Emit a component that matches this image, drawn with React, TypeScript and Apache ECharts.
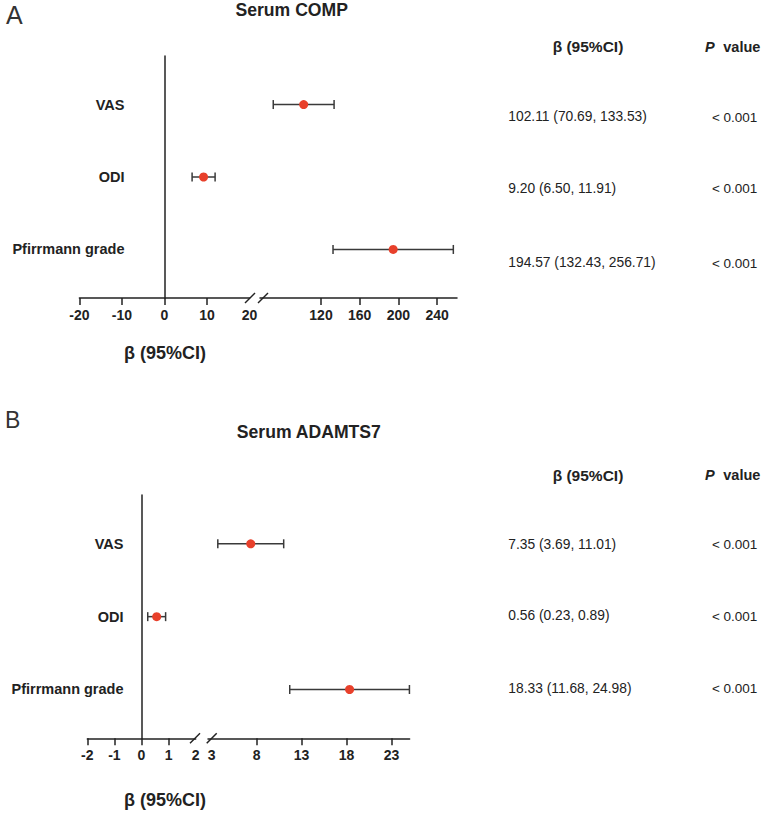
import React, { useEffect, useRef } from "react";
import * as echarts from "echarts";

// ---------- data ----------
const rowNames = ["VAS", "ODI", "Pfirrmann grade"];
const rowPos = [1, 2, 3];

const compBeta = [102.11, 9.2, 194.57];
const compLow = [70.69, 6.5, 132.43];
const compHigh = [133.53, 11.91, 256.71];
const compP = ["< 0.001", "< 0.001", "< 0.001"];

const adamBeta = [7.35, 0.56, 18.33];
const adamLow = [3.69, 0.23, 11.68];
const adamHigh = [11.01, 0.89, 24.98];
const adamP = ["< 0.001", "< 0.001", "< 0.001"];

const compLeftLabels = [-20, -10, 0, 10, 20];
const compLeftTicks = [-20, -10, 0, 10];
const compRightLabels = [120, 160, 200, 240];
const compRightTicks = [120, 160, 200, 240];
const adamLeftLabels = [-2, -1, 0, 1, 2];
const adamLeftTicks = [-2, -1, 0, 1];
const adamRightLabels = [3, 8, 13, 18, 23];
const adamRightTicks = [8, 13, 18, 23];

const FONT = "'Liberation Sans', Arial, Helvetica, sans-serif";
const INK = "#222";
const BAR = "#3a3a3a";
const RED = "#e8402b";

function fmt(b: number, l: number, h: number) {
  return `${b.toFixed(2)} (${l.toFixed(2)}, ${h.toFixed(2)})`;
}

export default function App() {
  const ref = useRef<HTMLDivElement>(null);

  useEffect(() => {
    if (!ref.current) return;
    const chart = echarts.init(ref.current, undefined, { renderer: "svg" });

    const grids = [
      { left: 79.4, top: 56, width: 170.1, height: 242 },
      { left: 260, top: 56, width: 197, height: 242 },
      { left: 87.3, top: 495, width: 108.4, height: 243.3 },
      { left: 208, top: 495, width: 201.6, height: 243.3 },
    ];
    const ranges = [
      [-20, 20],
      [57, 260.5],
      [-2, 2],
      [2.6, 25],
    ];
    const labelSets = [compLeftLabels, compRightLabels, adamLeftLabels, adamRightLabels];
    const tickSets = [compLeftTicks, compRightTicks, adamLeftTicks, adamRightTicks];

    const xAxis = grids.map((_, i) => ({
      gridIndex: i,
      type: "value",
      min: ranges[i][0],
      max: ranges[i][1],
      axisLine: { show: true, onZero: false, lineStyle: { color: INK, width: 1.5 } },
      axisTick: {
        show: true,
        inside: false,
        length: 7,
        customValues: tickSets[i],
        lineStyle: { color: INK, width: 1.5 },
      },
      axisLabel: {
        customValues: labelSets[i],
        formatter: (v: number) => String(v),
        margin: 10,
        fontFamily: FONT,
        fontWeight: "bold",
        fontSize: 14,
        color: INK,
        hideOverlap: false,
      },
      splitLine: { show: false },
    }));

    const yAxis = grids.map((g, i) => {
      const isLeft = i % 2 === 0;
      const [mn, mx] = ranges[i];
      // shift the y axis so that it sits on x = 0 of its grid
      const zeroShift = ((0 - mn) / (mx - mn)) * g.width;
      return {
        gridIndex: i,
        type: "value",
        inverse: true,
        position: "left",
        offset: isLeft ? -zeroShift : 0,
        min: 0.33,
        max: 3.67,
        show: isLeft,
        axisLine: { show: isLeft, onZero: false, lineStyle: { color: INK, width: 1.5 } },
        axisTick: { show: false },
        splitLine: { show: false },
        axisLabel: {
          show: isLeft,
          customValues: rowPos,
          formatter: (v: number) => rowNames[Math.round(v) - 1] ?? "",
          margin: i === 0 ? 40 : 18,
          fontFamily: FONT,
          fontWeight: "bold",
          fontSize: 14.5,
          color: INK,
        },
      };
    });

    const panels = [
      { beta: compBeta, low: compLow, high: compHigh, brk: 20, base: 0 },
      { beta: adamBeta, low: adamLow, high: adamHigh, brk: 2, base: 2 },
    ];

    const series: any[] = [];
    panels.forEach((p) => {
      [0, 1].forEach((seg) => {
        const gi = p.base + seg;
        const idx = rowPos.map((_, k) => k).filter((k) => (seg === 0 ? p.beta[k] <= p.brk : p.beta[k] > p.brk));
        series.push({
          type: "custom",
          xAxisIndex: gi,
          yAxisIndex: gi,
          clip: false,
          z: 2,
          encode: { x: [0, 1], y: 2 },
          data: idx.map((k) => [p.low[k], p.high[k], rowPos[k]]),
          renderItem: (params: any, api: any) => {
            const a = api.coord([api.value(0), api.value(2)]);
            const b = api.coord([api.value(1), api.value(2)]);
            const h = 4.5;
            const st = { stroke: BAR, lineWidth: 1.5 };
            return {
              type: "group",
              children: [
                { type: "line", shape: { x1: a[0], y1: a[1], x2: b[0], y2: b[1] }, style: st },
                { type: "line", shape: { x1: a[0], y1: a[1] - h, x2: a[0], y2: a[1] + h }, style: st },
                { type: "line", shape: { x1: b[0], y1: b[1] - h, x2: b[0], y2: b[1] + h }, style: st },
              ],
            };
          },
        });
        series.push({
          type: "scatter",
          xAxisIndex: gi,
          yAxisIndex: gi,
          z: 3,
          symbol: "circle",
          symbolSize: 9,
          itemStyle: { color: RED, opacity: 1 },
          data: idx.map((k) => [p.beta[k], rowPos[k]]),
        });
      });
    });

    const txt = (x: number, y: number, text: string, o: any = {}) => ({
      type: "text",
      x,
      y,
      style: {
        text,
        fontFamily: FONT,
        fontSize: o.fontSize ?? 13.8,
        fontWeight: o.fontWeight ?? "normal",
        fontStyle: o.fontStyle ?? "normal",
        fill: o.fill ?? INK,
        textAlign: o.align ?? "left",
        textVerticalAlign: "middle",
      },
    });
    const slash = (x: number, y: number) => ({
      type: "line",
      shape: { x1: x - 5, y1: y + 5, x2: x + 5, y2: y - 5 },
      style: { stroke: INK, lineWidth: 1.5 },
    });

    const graphic: any[] = [
      txt(6, 15, "A", { fontSize: 25, fill: "#333" }),
      txt(5, 420, "B", { fontSize: 23, fill: "#333" }),
      txt(291.7, 10, "Serum COMP", { fontSize: 17.6, fontWeight: "bold", align: "center" }),
      txt(308.8, 432.3, "Serum ADAMTS7", { fontSize: 17.6, fontWeight: "bold", align: "center" }),
      txt(588, 46.7, "β (95%CI)", { fontSize: 15.5, fontWeight: "bold", align: "center" }),
      txt(705, 46.7, "P", { fontSize: 14.5, fontWeight: "bold", fontStyle: "italic" }),
      txt(723.3, 46.7, "value", { fontSize: 14.5, fontWeight: "bold" }),
      txt(588, 475, "β (95%CI)", { fontSize: 15.5, fontWeight: "bold", align: "center" }),
      txt(705, 475, "P", { fontSize: 14.5, fontWeight: "bold", fontStyle: "italic" }),
      txt(723.3, 475, "value", { fontSize: 14.5, fontWeight: "bold" }),
      txt(165, 353, "β (95%CI)", { fontSize: 18, fontWeight: "bold", align: "center" }),
      txt(165, 800, "β (95%CI)", { fontSize: 18, fontWeight: "bold", align: "center" }),
      slash(250, 298),
      slash(263, 298),
      slash(195, 738.3),
      slash(211.7, 738.3),
    ];
    const compY = [116.7, 188, 262.7];
    const adamY = [544.3, 615.7, 688.3];
    rowPos.forEach((_, k) => {
      graphic.push(txt(508.3, compY[k], fmt(compBeta[k], compLow[k], compHigh[k])));
      graphic.push(txt(757.3, compY[k] + 0.5, compP[k], { fontSize: 13.5, align: "right" }));
      graphic.push(txt(508.3, adamY[k], fmt(adamBeta[k], adamLow[k], adamHigh[k])));
      graphic.push(txt(757.3, adamY[k] + 0.5, adamP[k], { fontSize: 13.5, align: "right" }));
    });

    chart.setOption({
      animation: false,
      backgroundColor: "#ffffff",
      grid: grids.map((g) => ({ ...g, containLabel: false, outerBoundsMode: "none" })),
      xAxis,
      yAxis,
      series,
      graphic,
    } as any);

    return () => chart.dispose();
  }, []);

  return (
    <div
      ref={ref}
      style={{ position: "absolute", left: 0, top: 0, width: 765, height: 813, background: "#fff" }}
    />
  );
}
